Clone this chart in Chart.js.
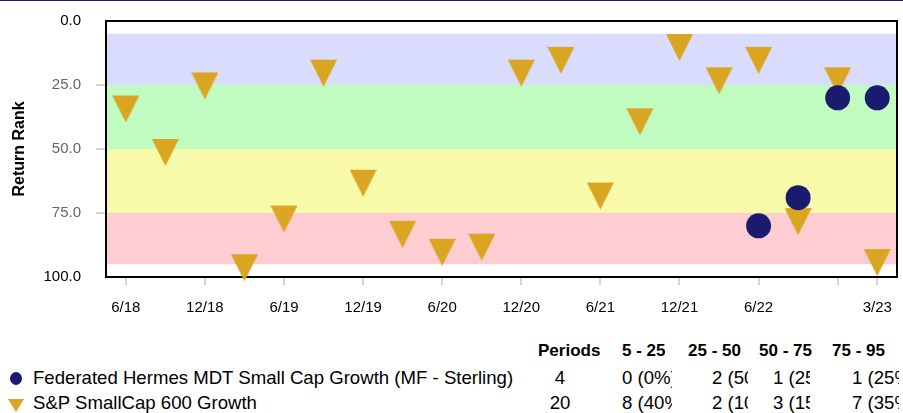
<!DOCTYPE html>
<html>
<head>
<meta charset="utf-8">
<script src="https://cdn.jsdelivr.net/npm/chart.js@4.4.1/dist/chart.umd.min.js"></script>
<style>
  body { margin: 0; width: 903px; height: 413px; overflow: hidden; background: #fff; position: relative;
         font-family: Arial, "Liberation Sans", sans-serif; }
  #topline { position: absolute; left: 0; top: 0; width: 903px; height: 1px; background: #1b1b6b; }
  #wrap { position: absolute; left: 0; top: 0; }
  .t { position: absolute; white-space: nowrap; overflow: hidden; font-size: 18.6px; line-height: 22px; color: #000; }
  .h { font-weight: bold; font-size: 17px; }
  .mk { position: absolute; }
</style>
</head>
<body>
<div id="wrap"><canvas id="rankChart" width="903" height="330"></canvas></div>
<div id="topline"></div>
<div id="legendTable"></div>
<script>
// Rolling return rank, quarterly
const quarters = ['6/18', '9/18', '12/18', '3/19', '6/19', '9/19', '12/19', '3/20', '6/20', '9/20',
                  '12/20', '3/21', '6/21', '9/21', '12/21', '3/22', '6/22', '9/22', '12/22', '3/23'];
const tickQuarters = ['6/18', '12/18', '6/19', '12/19', '6/20', '12/20', '6/21', '12/21', '6/22', '12/22', '3/23'];
const unlabeledQuarters = ['12/22'];

const fundName = 'Federated Hermes MDT Small Cap Growth (MF - Sterling)';
const fundRanks = [null, null, null, null, null, null, null, null, null, null,
                   null, null, null, null, null, null, 80, 69, 30, 30];
const benchName = 'S&P SmallCap 600 Growth';
const benchRanks = [33, 50, 24, 95, 76, 19, 62, 82, 89, 87,
                    19, 14, 67, 38, 9, 22, 14, 77, 22, 93];

const rankBands = [5, 25, 50, 75, 95];
const bandColors = ['#d9dcfc', '#c0fbc0', '#f9faa9', '#fdcdd1'];
const yTicks = [0, 25, 50, 75, 100];

const fundColor = '#1a1a6e';
const benchColor = '#daa520';

// downward triangle marker, anchored a bit below its flat top
function makeTriangle(color) {
  const c = document.createElement('canvas');
  c.width = 27; c.height = 34;
  const g = c.getContext('2d');
  g.fillStyle = color;
  g.beginPath();
  g.moveTo(0, 7); g.lineTo(27, 7); g.lineTo(13.5, 34);
  g.closePath();
  g.fill();
  return c;
}

const toPoints = arr => arr.map((v, i) => (v == null ? null : { x: i, y: v })).filter(p => p);

const bandsPlugin = {
  id: 'bands',
  beforeDatasetsDraw(chart) {
    const { ctx, chartArea: a, scales: { y } } = chart;
    ctx.save();
    for (let i = 0; i < bandColors.length; i++) {
      const y1 = y.getPixelForValue(rankBands[i]);
      const y2 = y.getPixelForValue(rankBands[i + 1]);
      ctx.fillStyle = bandColors[i];
      ctx.fillRect(a.left, y1, a.right - a.left, y2 - y1);
    }
    ctx.strokeStyle = '#000';
    ctx.lineWidth = 2;
    ctx.strokeRect(a.left, a.top, a.right - a.left, a.bottom - a.top);
    ctx.restore();
  }
};

const ctx = document.getElementById('rankChart');
new Chart(ctx, {
  type: 'scatter',
  data: {
    datasets: [
      {
        label: fundName,
        data: toPoints(fundRanks),
        pointStyle: 'circle',
        pointRadius: 12.5,
        backgroundColor: fundColor,
        borderWidth: 0,
        clip: false,
      },
      {
        label: benchName,
        data: toPoints(benchRanks),
        pointStyle: makeTriangle(benchColor),
        pointRadius: 13,
        backgroundColor: benchColor,
        borderWidth: 0,
        clip: false,
      },
    ],
  },
  options: {
    responsive: false,
    animation: false,
    layout: { autoPadding: false, padding: { left: 0, right: 6, top: 21, bottom: 0 } },
    plugins: {
      legend: { display: false },
      tooltip: { enabled: false },
    },
    scales: {
      x: {
        type: 'linear',
        min: -0.5,
        max: quarters.length - 0.5,
        afterBuildTicks: s => { s.ticks = tickQuarters.map(q => ({ value: quarters.indexOf(q) })); },
        afterFit: s => { s.height = 53; s.paddingLeft = 0; s.paddingRight = 0; },
        border: { display: false },
        grid: { drawOnChartArea: false, tickLength: 8, lineWidth: 2, color: '#d4d4d4' },
        ticks: {
          autoSkip: false,
          maxRotation: 0,
          padding: 14,
          color: '#000',
          font: { size: 15, family: 'Arial, "Liberation Sans", sans-serif' },
          callback: v => {
            const q = quarters[v];
            return unlabeledQuarters.includes(q) ? '' : q;
          },
        },
      },
      y: {
        reverse: true,
        min: 0,
        max: 100,
        afterBuildTicks: s => { s.ticks = yTicks.map(v => ({ value: v })); },
        afterFit: s => { s.width = 106; s.paddingTop = 0; s.paddingBottom = 0; },
        border: { display: false },
        grid: {
          drawOnChartArea: false,
          tickLength: 10,
          lineWidth: 2,
          color: c => (c.tick && c.tick.value % 100 === 0 ? 'rgba(0,0,0,0)' : '#d4d4d4'),
        },
        ticks: {
          padding: 15,
          font: { size: 15, family: 'Arial, "Liberation Sans", sans-serif' },
          color: c => (c.tick.value % 100 === 0 ? '#000' : '#666'),
          callback: v => v.toFixed(1),
        },
        title: {
          display: true,
          text: 'Return Rank',
          color: '#000',
          font: { size: 16, weight: 'bold', family: 'Arial, "Liberation Sans", sans-serif' },
          padding: { top: 10, bottom: 0 },
        },
      },
    },
  },
  plugins: [bandsPlugin],
});

// summary table under the chart
function countBands(ranks) {
  const vals = ranks.filter(v => v != null);
  const out = [];
  for (let i = 0; i < rankBands.length - 1; i++) {
    const lo = rankBands[i], hi = rankBands[i + 1];
    const last = i === rankBands.length - 2;
    const n = vals.filter(v => v >= lo && (last ? v <= hi : v < hi)).length;
    out.push(n + ' (' + Math.round(n / vals.length * 100) + '%)');
  }
  return { periods: vals.length, cells: out };
}

const table = document.getElementById('legendTable');
function addText(txt, left, top, width, cls, align) {
  const d = document.createElement('div');
  d.className = 't' + (cls ? ' ' + cls : '');
  d.textContent = txt;
  d.style.left = left + 'px';
  d.style.top = top + 'px';
  if (width) d.style.width = width + 'px';
  if (align) d.style.textAlign = align;
  table.appendChild(d);
}

const headerLefts = [622, 688, 759, 832];
const cellLefts = [622, 712, 773, 852];
const cellRights = [672, 748, 810, 899];

addText('Periods', 538, 340, null, 'h');
for (let i = 0; i < rankBands.length - 1; i++) {
  addText(rankBands[i] + ' - ' + rankBands[i + 1], headerLefts[i], 340, null, 'h');
}

const rows = [
  { name: fundName, ranks: fundRanks, top: 367 },
  { name: benchName, ranks: benchRanks, top: 392 },
];
rows.forEach(r => {
  const s = countBands(r.ranks);
  addText(r.name, 33, r.top);
  addText(String(s.periods), 540, r.top, 40, null, 'center');
  s.cells.forEach((c, i) => addText(c, cellLefts[i], r.top, cellRights[i] - cellLefts[i]));
});

const dot = document.createElement('div');
dot.className = 'mk';
Object.assign(dot.style, { left: '10px', top: '372px', width: '12px', height: '13px', borderRadius: '50%', background: fundColor });
table.appendChild(dot);

const tri = document.createElement('div');
tri.className = 'mk';
Object.assign(tri.style, { left: '8px', top: '399px', width: '16px', height: '13px', background: benchColor,
  clipPath: 'polygon(0 0, 100% 0, 50% 100%)' });
table.appendChild(tri);
</script>
</body>
</html>
